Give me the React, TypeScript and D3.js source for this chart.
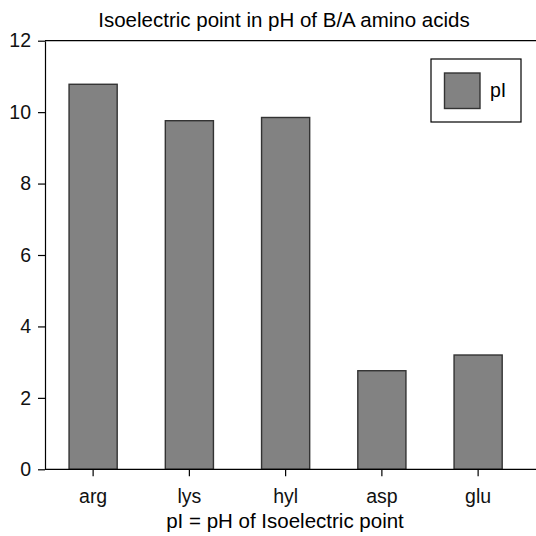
import * as d3 from 'd3'
import { useEffect, useRef } from 'react'

const W = 536
const H = 536
const LEFT = 45
const RIGHT = 526.25
const TOP = 40.7
const BOTTOM = 469.3

const aminoAcids = ['arg', 'lys', 'hyl', 'asp', 'glu']
const pIValues = [10.78, 9.76, 9.85, 2.76, 3.2]
const yTicks = [0, 2, 4, 6, 8, 10, 12]

const FONT = 'Liberation Sans, Arial, Helvetica, sans-serif'

export default function App() {
  const svgRef = useRef<SVGSVGElement>(null)

  useEffect(() => {
    if (!svgRef.current) return
    const svg = d3.select(svgRef.current)
    svg.selectAll('*').remove()

    const x = d3.scaleBand<string>()
      .domain(aminoAcids)
      .range([LEFT, RIGHT])
      .paddingInner(0.5)
      .paddingOuter(0.25)

    const y = d3.scaleLinear().domain([0, 12]).range([BOTTOM, TOP])

    // Title
    svg.append('text')
      .attr('x', 284)
      .attr('y', 26.5)
      .attr('text-anchor', 'middle')
      .attr('font-family', FONT)
      .attr('font-size', 20.5)
      .text('Isoelectric point in pH of B/A amino acids')

    // Bars
    svg.append('g')
      .selectAll('rect')
      .data(aminoAcids)
      .enter()
      .append('rect')
      .attr('x', d => x(d)!)
      .attr('y', (_, i) => y(pIValues[i]))
      .attr('width', x.bandwidth())
      .attr('height', (_, i) => BOTTOM - y(pIValues[i]))
      .attr('fill', '#828282')
      .attr('stroke', '#333')
      .attr('stroke-width', 1.4)

    // Top frame line
    svg.append('line')
      .attr('x1', LEFT).attr('x2', W)
      .attr('y1', TOP).attr('y2', TOP)
      .attr('stroke', '#000').attr('stroke-width', 1.2)

    // Bottom baseline
    svg.append('line')
      .attr('x1', LEFT).attr('x2', W)
      .attr('y1', BOTTOM).attr('y2', BOTTOM)
      .attr('stroke', '#000').attr('stroke-width', 1.2)

    // Y axis
    const yAxis = svg.append('g')
      .attr('transform', `translate(${LEFT},0)`)
      .call(d3.axisLeft(y).tickValues(yTicks).tickSize(7).tickPadding(7).tickSizeOuter(0))
    yAxis.select('.domain').attr('stroke', '#000').attr('stroke-width', 1.2)
    yAxis.selectAll('line').attr('stroke', '#000').attr('stroke-width', 1.2)
    yAxis.selectAll('text')
      .attr('font-family', FONT)
      .attr('font-size', 19.5)
      .attr('fill', '#111')

    // X axis
    const xAxis = svg.append('g')
      .attr('transform', `translate(0,${BOTTOM})`)
      .call(d3.axisBottom(x).tickSize(7).tickPadding(13).tickSizeOuter(0))
    xAxis.select('.domain').remove()
    xAxis.selectAll('line').attr('stroke', '#000').attr('stroke-width', 1.2)
    xAxis.selectAll('text')
      .attr('font-family', FONT)
      .attr('font-size', 19.5)
      .attr('fill', '#111')

    // X axis title
    svg.append('text')
      .attr('x', 285)
      .attr('y', 528)
      .attr('text-anchor', 'middle')
      .attr('font-family', FONT)
      .attr('font-size', 20.5)
      .text('pI = pH of Isoelectric point')

    // Legend
    const lg = svg.append('g')
    lg.append('rect')
      .attr('x', 431).attr('y', 59)
      .attr('width', 90).attr('height', 63)
      .attr('fill', '#fff')
      .attr('stroke', '#000').attr('stroke-width', 1.2)
    lg.append('rect')
      .attr('x', 444.5).attr('y', 73)
      .attr('width', 35.5).attr('height', 35.5)
      .attr('fill', '#828282')
      .attr('stroke', '#333').attr('stroke-width', 1.4)
    lg.append('text')
      .attr('x', 490)
      .attr('y', 97)
      .attr('font-family', FONT)
      .attr('font-size', 19.5)
      .text('pI')
  }, [])

  return (
    <svg
      ref={svgRef}
      width={W}
      height={H}
      style={{ position: 'absolute', left: 0, top: 0, background: '#fff' }}
    />
  )
}
